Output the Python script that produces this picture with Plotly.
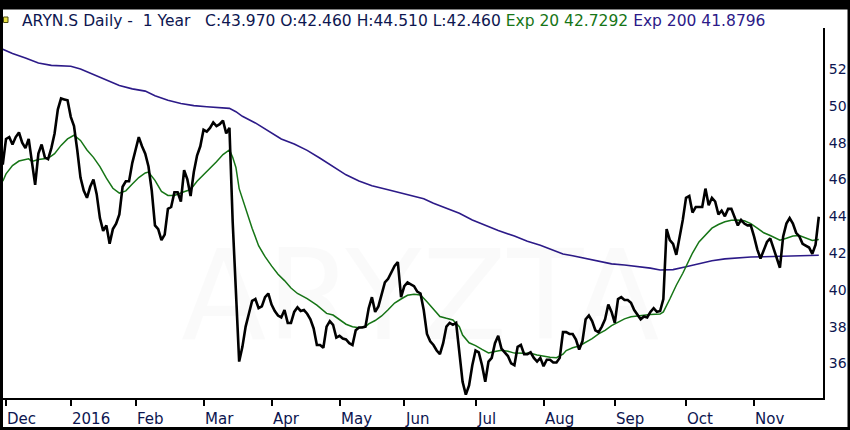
import plotly.graph_objects as go

# ---- data (trading-day index: 0 = first trading day of Dec 2015) ----
close_x = list(range(-1, 252))
close = [
    46.8, 48.2, 48.3, 47.9, 48.3, 48.55, 48.0, 47.7, 48.2, 47.0,
    45.7, 47.4, 47.9, 47.2, 47.1, 47.7, 48.5, 49.8, 50.4, 50.35,
    50.3, 49.4, 48.9, 47.6, 46.1, 45.4, 45.0, 45.6, 46.0, 45.2,
    43.9, 43.2, 43.5, 42.5, 43.3, 43.6, 44.1, 45.6, 45.9, 45.9,
    46.9, 47.6, 48.3, 47.8, 47.4, 46.7, 45.4, 43.5, 43.3, 42.7,
    43.0, 44.4, 44.5, 45.3, 45.3, 44.8, 46.5, 46.0, 45.1, 46.4,
    47.3, 47.8, 48.7, 48.6, 48.8, 49.1, 48.9, 49.0, 49.2, 48.5,
    48.8, 43.7, 39.9, 36.1, 36.9, 38.0, 38.7, 39.4, 39.5, 39.0,
    39.1, 39.6, 39.8, 39.2, 38.85, 38.6, 38.5, 38.9, 38.2, 38.2,
    38.8, 39.05, 38.85, 38.9, 38.7, 38.4, 37.9, 37.0, 37.0, 36.85,
    38.0, 38.3, 38.1, 37.4, 37.5, 37.35, 37.3, 37.1, 37.0, 37.8,
    37.95, 37.95, 38.0, 39.0, 39.6, 38.8, 39.1, 39.7, 40.4, 40.6,
    41.0, 41.3, 41.5, 39.6, 40.2, 40.4, 40.3, 40.2, 39.9, 39.8,
    38.9, 37.6, 37.2, 37.0, 36.7, 36.5, 37.1, 38.0, 38.2, 38.1,
    38.2, 36.5, 35.0, 34.3, 34.8, 35.9, 36.7, 36.6, 35.9, 35.0,
    36.1, 36.3, 37.1, 37.5, 36.8, 36.6, 36.4, 36.0, 35.9, 36.9,
    37.0, 36.5, 36.5, 36.6, 36.3, 36.1, 36.3, 35.85, 36.2, 36.2,
    36.05, 36.05, 36.3, 37.7, 37.7, 37.6, 37.6, 37.3, 36.75, 37.2,
    38.4, 38.6, 38.3, 37.8, 37.7, 38.0, 38.4, 39.2, 38.8, 38.2,
    39.5, 39.6, 39.45, 39.45, 39.3, 38.9, 38.65, 38.4, 38.55, 38.5,
    38.8, 39.0, 38.8, 38.85, 39.5, 43.3, 42.7, 42.5, 41.9, 42.8,
    43.8, 45.0, 45.1, 44.2, 44.5, 44.5, 44.5, 45.5, 44.6, 45.0,
    44.8, 44.1, 44.3, 44.0, 44.4, 44.4, 43.9, 43.5, 43.8, 43.6,
    43.5, 43.5, 42.9, 42.2, 41.7, 42.2, 42.6, 42.8, 42.3, 41.8,
    41.2, 42.9, 43.6, 43.9, 43.6, 43.1, 42.9, 42.5, 42.4, 42.3,
    41.95, 42.45, 43.97,
]

ema20_x = [-1, 0, 2, 4, 7, 8, 10, 13, 15, 17, 19, 21, 23, 25, 27, 29, 31, 33, 35, 37,
           39, 41, 43, 44, 46, 48, 50, 52, 55, 57, 59, 62, 65, 67, 69, 70, 71, 72, 74, 76,
           78, 80, 82, 84, 86, 88, 90, 93, 96, 99, 101, 103, 105, 107, 109, 111, 112, 114, 116, 118,
           120, 122, 124, 126, 128, 130, 132, 134, 136, 138, 140, 141, 143, 145, 147, 149, 151, 153, 155, 157,
           160, 162, 164, 166, 168, 170, 172, 173, 175, 177, 179, 181, 183, 185, 187, 189, 191, 193, 195, 197,
           199, 202, 203, 205, 207, 209, 211, 212, 214, 216, 218, 220, 222, 224, 226, 228, 230, 232, 234, 236,
           238, 239, 241, 243, 245, 247, 249, 251]
ema20 = [45.9, 46.3, 46.75, 47.0, 47.12, 46.98, 47.08, 47.15, 47.4, 47.85, 48.2, 48.4, 48.12, 47.6, 47.2, 46.7, 46.07, 45.52, 45.25, 45.38,
         45.75, 46.1, 46.35, 46.4, 45.95, 45.35, 45.13, 45.13, 45.33, 45.45, 45.9, 46.42, 46.96, 47.35, 47.6, 47.2, 46.65, 45.5, 44.4, 43.35,
         42.4, 41.8, 41.3, 40.85, 40.5, 40.1, 39.8, 39.52, 39.17, 38.72, 38.63, 38.36, 38.13, 37.99, 37.94, 37.99, 38.15, 38.33, 38.58, 38.92,
         39.28, 39.5, 39.7, 39.76, 39.72, 39.35, 38.97, 38.55, 38.45, 38.36, 38.0, 37.54, 37.12, 36.97, 36.76, 36.57, 36.65, 36.72, 36.66, 36.56,
         36.55, 36.55, 36.46, 36.38, 36.33, 36.31, 36.5, 36.7, 36.85, 36.95, 37.15, 37.35, 37.6, 37.8, 38.05, 38.25, 38.42, 38.53, 38.58, 38.62,
         38.66, 38.68, 38.8, 39.5, 40.25, 40.9, 41.7, 42.0, 42.6, 43.0, 43.35, 43.55, 43.7, 43.78, 43.8, 43.75, 43.6, 43.35, 43.1, 42.95,
         42.78, 42.7, 42.8, 42.92, 42.95, 42.82, 42.68, 42.73]

ema200_x = [-1, 2, 6, 10, 14, 18, 20, 23, 27, 31, 35, 39, 43, 46, 50, 54, 58, 62, 66, 69,
            71, 73, 77, 81, 85, 89, 93, 97, 101, 105, 109, 113, 118, 122, 126, 129, 132, 136, 140, 144,
            148, 152, 157, 161, 165, 169, 172, 175, 179, 183, 187, 191, 195, 199, 202, 206, 210, 214, 218, 222,
            226, 230, 234, 238, 242, 246, 251]
ema200 = [53.08, 52.85, 52.6, 52.33, 52.2, 52.18, 52.15, 52.0, 51.71, 51.4, 51.1, 50.92, 50.8, 50.55, 50.3, 50.13, 50.01, 49.95, 49.92, 49.86,
          49.68, 49.43, 49.07, 48.65, 48.2, 47.93, 47.58, 47.15, 46.69, 46.25, 45.92, 45.66, 45.44, 45.26, 45.12, 44.95, 44.7, 44.43, 44.16, 43.8,
          43.5, 43.22, 42.92, 42.64, 42.42, 42.16, 41.95, 41.85, 41.71, 41.54, 41.41, 41.35, 41.27, 41.18, 41.08, 41.1, 41.25, 41.42, 41.58, 41.68,
          41.74, 41.78, 41.8, 41.82, 41.84, 41.86, 41.88]

month_idx = [0, 20, 40, 61, 82, 103, 123, 145, 166, 188, 210, 231]
month_lbl = ["Dec", "2016", "Feb", "Mar", "Apr", "May", "Jun", "Jul", "Aug", "Sep", "Oct", "Nov"]
ytick_vals = [36, 38, 40, 42, 44, 46, 48, 50, 52]

# ---- layout geometry ----
W, H = 850, 430
L, R, T, B = 3, 27, 28, 32
PW, PH = W - L - R, H - T - B

def px(x):
    return (x - L) / PW

def py(y):
    return (H - B - y) / PH

NAVY = "#0d1650"
GREEN = "#167516"
PURPLE = "#2c1a88"
FONT = "DejaVu Sans"

fig = go.Figure()
fig.add_trace(go.Scatter(x=ema200_x, y=ema200, mode="lines",
                         line=dict(color=PURPLE, width=1.6), hoverinfo="skip"))
fig.add_trace(go.Scatter(x=ema20_x, y=ema20, mode="lines",
                         line=dict(color=GREEN, width=1.5), hoverinfo="skip"))
fig.add_trace(go.Scatter(x=close_x, y=close, mode="lines",
                         line=dict(color="#000000", width=2.6), hoverinfo="skip"))

fig.update_layout(
    width=W, height=H,
    margin=dict(l=L, r=R, t=T, b=B, pad=0, autoexpand=False),
    paper_bgcolor="white", plot_bgcolor="white",
    showlegend=False,
    font=dict(family=FONT, size=13, color=NAVY),
    xaxis=dict(range=[-0.93, 252.3], showgrid=False, zeroline=False,
               showline=True, linecolor="black", linewidth=2,
               tickvals=month_idx, ticks="outside", ticklen=6, tickwidth=2,
               tickcolor="black", showticklabels=False, fixedrange=True,
               automargin=False),
    yaxis=dict(range=[34.12, 54.23], side="right", showgrid=False, zeroline=False,
               showline=True, linecolor="black", linewidth=2,
               tickvals=ytick_vals, ticks="", ticklabelstandoff=1,
               tickfont=dict(family=FONT, size=14, color=NAVY), fixedrange=True,
               automargin=False),
)

annotations = []
annotations.append(dict(x=px(420), y=py(295), xref="paper", yref="paper", text="ARYZTA",
                        showarrow=False, xanchor="center", yanchor="middle",
                        font=dict(family=FONT, size=125, color="rgba(0,0,0,0.02)")))
for idx, lbl in zip(month_idx, month_lbl):
    annotations.append(dict(x=idx - 0.3, y=py(419), xref="x", yref="paper",
                            text=lbl, showarrow=False, xanchor="left", yanchor="middle",
                            font=dict(family=FONT, size=15, color=NAVY)))

title = ("ARYN.S Daily -&nbsp; 1 Year&nbsp;&nbsp; C:43.970 O:42.460 H:44.510 L:42.460 "
         f"<span style='color:{GREEN}'>Exp 20 42.7292</span> "
         f"<span style='color:{PURPLE}'>Exp 200 41.8796</span>")
annotations.append(dict(x=px(20), y=py(21), xref="paper", yref="paper", text=title,
                        showarrow=False, xanchor="left", yanchor="middle",
                        font=dict(family=FONT, size=15.5, color=NAVY)))
fig.update_layout(annotations=annotations)

frame = dict(type="rect", xref="paper", yref="paper", fillcolor="black",
             line=dict(color="black", width=1), layer="above")
shapes = [
    dict(frame, x0=px(0), x1=px(850), y0=py(0), y1=py(9)),      # top band
    dict(frame, x0=px(0), x1=px(2.5), y0=py(0), y1=py(430)),    # left
    dict(frame, x0=px(0), x1=px(850), y0=py(427.5), y1=py(430)),  # bottom
    dict(frame, x0=px(848), x1=px(850), y0=py(0), y1=py(430)),  # right
    # small yellow icon
    dict(type="rect", xref="paper", yref="paper", x0=px(3.5), x1=px(8), y0=py(17), y1=py(22.5),
         fillcolor="#e8e040", line=dict(color="#4a4a10", width=1), layer="above"),
]
fig.update_layout(shapes=shapes)

fig.write_html("out.html", config={"displayModeBar": False, "staticPlot": True},
               post_script="document.body.style.margin='0';document.body.style.padding='0';")
